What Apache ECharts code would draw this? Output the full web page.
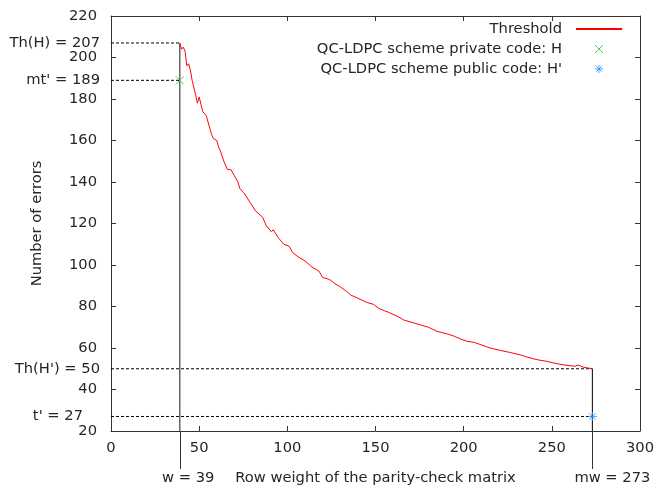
<!DOCTYPE html>
<html><head><meta charset="utf-8">
<script src="https://cdn.jsdelivr.net/npm/echarts@6/dist/echarts.min.js"></script>
<style>html,body{margin:0;padding:0;background:#fff}#c{width:657px;height:491px}</style>
</head><body><div id="c"></div>
<script>
// ---- data ----
const thresholdX = [39,40,41,42,43,44,45,46,48,49,50,52,54,57,58,60,61,62,64,66,68,70,72,73,75,76,79,82,86,88,91,92,95,98,101,103,106,110,114,118,120,124,127,130,134,136,140,145,149,152,155,158,163,166,172,176,180,185,191,195,198,202,206,210,215,221,226,232,236,242,247,253,258,263,265,268,273];
const thresholdY = [207,204,205,203,196,197,194,189,182,178,181,174,172,163,161,160,157,155,150,146,146,143,140,137,135,134,130,126,123,119,116,117,113,110,109,106,104,102,99,97,94,93,91,89.5,87,85.5,84,82,81,79,78,77,75,73.5,72,71,70,68,66.7,65.6,64.4,63.2,62.7,61.5,60,58.8,57.9,56.7,55.6,54.3,53.6,52.4,51.7,51.2,51.8,50.7,50];
const seriesNames = ['Threshold', 'QC-LDPC scheme private code: H', 'QC-LDPC scheme public code: H\''];
const privatePoint = [39, 189];
const publicPoint = [273, 27];
const thH = 207, mtPrime = 189, thHPrime = 50, tPrime = 27, w = 39, mw = 273;
const yLabelTexts = {207: 'Th(H) = 207', 189: 'mt\' = 189', 50: 'Th(H\') = 50', 27: 't\' = 27'};
const xLabelTexts = {39: 'w = 39', 273: 'mw = 273'};
const xMin = 0, xMax = 300, xStep = 50;
const yMin = 20, yMax = 220, yStep = 20;

// ---- styling ----
const FONT = 'DejaVu Sans';
const FS = 14.7;
const TXT = '#262626';
const AX = '#333';
const crossPath = 'path://M0,0L10,10M10,0L0,10';
const starPath = 'path://M5,0L5,10M0,5L10,5M1.5,1.5L8.5,8.5M8.5,1.5L1.5,8.5';

const dashed = {color: '#000', width: 1, type: [3, 2]};
function guide(data, style) {
  return {type: 'line', data: data, symbol: 'none', silent: true, lineStyle: style, z: 2, legendHoverLink: false};
}

const chart = echarts.init(document.getElementById('c'), null, {renderer: 'canvas'});
const baseLabel = {fontFamily: FONT, fontSize: FS, color: TXT};

chart.setOption({
  animation: false,
  grid: {left: 111, right: 13, top: 16, bottom: 58, containLabel: false},
  legend: {
    orient: 'vertical', right: 34, top: 19, align: 'right', padding: 0,
    itemWidth: 46, itemHeight: 8, itemGap: 0,
    textStyle: Object.assign({lineHeight: 20, padding: [0, 9, 0, 0]}, baseLabel),
    data: [
      {name: seriesNames[0], itemStyle: {color: 'rgba(0,0,0,0)', borderColor: 'rgba(0,0,0,0)', borderWidth: 0, opacity: 0}},
      {name: seriesNames[1], icon: crossPath, itemStyle: {color: '#33bb33', borderColor: '#33bb33', borderWidth: 1}},
      {name: seriesNames[2], icon: starPath, itemStyle: {color: '#1e90ff', borderColor: '#1e90ff', borderWidth: 1}}
    ]
  },
  xAxis: [
    {type: 'value', min: xMin, max: xMax, interval: xStep, position: 'bottom',
      axisLine: {show: true, onZero: false, lineStyle: {color: AX}},
      axisTick: {inside: true, length: 5, lineStyle: {color: AX}},
      axisLabel: Object.assign({margin: 10}, baseLabel),
      splitLine: {show: false},
      name: 'Row weight of the parity-check matrix', nameLocation: 'middle', nameGap: 40,
      nameTextStyle: baseLabel},
    {type: 'value', min: xMin, max: xMax, interval: xStep, position: 'top',
      axisLine: {show: true, onZero: false, lineStyle: {color: AX}},
      axisTick: {inside: true, length: 5, lineStyle: {color: AX}},
      axisLabel: {show: false}, splitLine: {show: false}},
    {type: 'value', min: xMin, max: xMax, position: 'bottom',
      axisLine: {show: false, onZero: false},
      axisTick: {show: true, customValues: [w, mw], length: 38, lineStyle: {color: AX, width: 1}},
      axisLabel: {customValues: [w, mw], margin: 40, align: 'center',
        formatter: v => (v === w ? '{a|' : '{b|') + xLabelTexts[v] + '}',
        rich: {a: Object.assign({padding: [0, 0, 0, 17]}, baseLabel), b: Object.assign({padding: [0, 0, 0, 40]}, baseLabel)}},
      splitLine: {show: false}}
  ],
  yAxis: [
    {type: 'value', min: yMin, max: yMax, interval: yStep, position: 'left',
      axisLine: {show: true, onZero: false, lineStyle: {color: AX}},
      axisTick: {inside: true, length: 5, lineStyle: {color: AX}},
      axisLabel: Object.assign({margin: 14}, baseLabel),
      splitLine: {show: false},
      name: 'Number of errors', nameLocation: 'middle', nameGap: 66, nameRotate: 90,
      nameTextStyle: baseLabel},
    {type: 'value', min: yMin, max: yMax, interval: yStep, position: 'right',
      axisLine: {show: true, onZero: false, lineStyle: {color: AX}},
      axisTick: {inside: true, length: 5, lineStyle: {color: AX}},
      axisLabel: {show: false}, splitLine: {show: false}},
    {type: 'value', min: yMin, max: yMax, position: 'left',
      axisLine: {show: false, onZero: false}, axisTick: {show: false},
      axisLabel: {customValues: [thH, mtPrime, thHPrime, tPrime], margin: 11,
        formatter: v => (v === tPrime ? '{t|' : '{n|') + yLabelTexts[v] + '}',
        rich: {n: baseLabel, t: Object.assign({padding: [0, 17, 0, 0]}, baseLabel)}},
      splitLine: {show: false}}
  ],
  series: [
    guide([[xMin, thH], [w, thH]], dashed),
    guide([[xMin, mtPrime], [w, mtPrime]], dashed),
    guide([[xMin, thHPrime], [mw, thHPrime]], dashed),
    guide([[xMin, tPrime], [mw, tPrime]], dashed),
    guide([[w, thH], [w, yMin]], {color: '#666', width: 1.5}),
    guide([[mw, thHPrime], [mw, yMin]], {color: '#000', width: 1}),
    {type: 'line', name: seriesNames[0], data: thresholdX.map((x, i) => [x, thresholdY[i]]),
      symbol: 'none', lineStyle: {color: '#ff0000', width: 1}, itemStyle: {color: '#ff0000'}, z: 5},
    {type: 'scatter', name: seriesNames[1], data: [privatePoint], symbol: crossPath, symbolSize: 8,
      symbolKeepAspect: true,
      itemStyle: {color: '#33bb33', borderColor: '#33bb33', borderWidth: 1}, z: 6},
    {type: 'scatter', name: seriesNames[2], data: [publicPoint], symbol: starPath, symbolSize: 9,
      symbolKeepAspect: true,
      itemStyle: {color: '#1e90ff', borderColor: '#1e90ff', borderWidth: 1}, z: 6}
  ]
});
</script>
</body></html>
